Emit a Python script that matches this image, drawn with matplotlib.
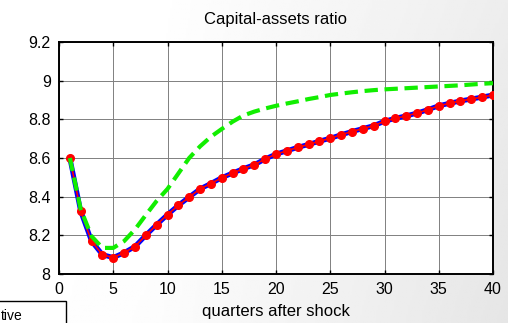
import matplotlib

matplotlib.use("Agg")
import matplotlib.pyplot as plt
import numpy as np

QUARTERS = list(range(1, 41))

# capital-assets ratio, baseline response (blue line / red markers)
BASELINE = [
    8.600, 8.325, 8.170, 8.100, 8.085, 8.110, 8.142, 8.200, 8.255, 8.307,
    8.355, 8.398, 8.440, 8.468, 8.498, 8.522, 8.545, 8.565, 8.595, 8.620,
    8.637, 8.655, 8.670, 8.687, 8.702, 8.720, 8.737, 8.752, 8.767, 8.790,
    8.805, 8.818, 8.832, 8.850, 8.870, 8.883, 8.895, 8.905, 8.915, 8.926,
]

# alternative response (green dashed)
ALTERNATIVE = [
    8.600, 8.335, 8.195, 8.135, 8.135, 8.170, 8.230, 8.305, 8.378, 8.440,
    8.520, 8.600, 8.660, 8.710, 8.750, 8.788, 8.820, 8.840, 8.856, 8.870,
    8.882, 8.893, 8.905, 8.915, 8.926, 8.933, 8.940, 8.946, 8.951, 8.955,
    8.958, 8.961, 8.964, 8.967, 8.970, 8.973, 8.976, 8.980, 8.984, 8.987,
]

X_TICKS = [0, 5, 10, 15, 20, 25, 30, 35, 40]
Y_TICKS = [8.0, 8.2, 8.4, 8.6, 8.8, 9.0, 9.2]
Y_LABELS = ["8", "8.2", "8.4", "8.6", "8.8", "9", "9.2"]

plt.rcParams["font.family"] = ["Liberation Sans Narrow", "Liberation Sans", "DejaVu Sans"]

fig = plt.figure(figsize=(5.08, 3.23), dpi=100)

# background: white on the left fading to light grey on the right
bg = fig.add_axes([0, 0, 1, 1], zorder=-10)
gx = np.linspace(0, 1, 256)
gy = np.linspace(0, 1, 64)
GX, GY = np.meshgrid(gx, gy)
shade = 1.0 - 0.07 * np.clip(GX - 0.3, 0, None) / 0.7 - 0.03 * GY * GX
bg.imshow(shade, cmap="gray", vmin=0, vmax=1, aspect="auto",
          extent=[0, 1, 0, 1], origin="upper")
bg.set_axis_off()

ax = fig.add_axes([59 / 508, 1 - 274 / 323, 434 / 508, 232 / 323])
ax.set_facecolor("white")

ax.plot(QUARTERS, BASELINE, color="blue", lw=3.6, zorder=3)
ax.plot(QUARTERS, BASELINE, color="red", lw=1.2, marker="o", ms=5.5,
        markerfacecolor="red", markeredgecolor="red", zorder=4)
ax.plot(QUARTERS, ALTERNATIVE, color="#11ee00", lw=3.0, ls=(0, (3.2, 1.6)), zorder=5)

ax.set_xlim(0, 40)
ax.set_ylim(8, 9.2)
ax.set_xticks(X_TICKS)
ax.set_yticks(Y_TICKS)
ax.set_yticklabels(Y_LABELS)
ax.grid(True, color="#808080", lw=0.7)
ax.tick_params(direction="in", top=True, right=True, length=3, labelsize=11.5,
               pad=6, width=1)
for spine in ax.spines.values():
    spine.set_linewidth(1.4)

ax.set_title("Capital-assets ratio", fontsize=12, pad=13)
ax.set_xlabel("quarters after shock", fontsize=12, labelpad=5)

# legend box clipped at the lower left corner
fig.patches.append(plt.Rectangle((-0.01, -0.05), 66 / 508 + 0.01, (323 - 301) / 323 + 0.05,
                                 transform=fig.transFigure, facecolor="white",
                                 edgecolor="black", lw=1.0))
fig.text(1 / 508, 0, "tive", fontsize=10, ha="left", va="bottom")

fig.savefig("out.png", dpi=100)
